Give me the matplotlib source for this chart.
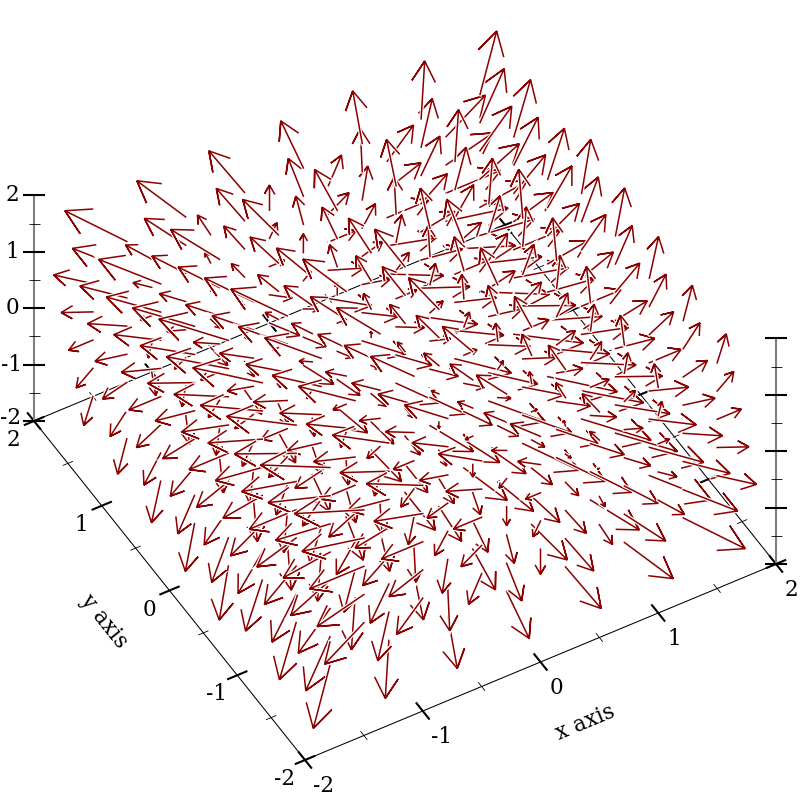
import numpy as np
import matplotlib
matplotlib.use('Agg')
import matplotlib.pyplot as plt

plt.rcParams['font.family'] = ['DejaVu Serif']

# sample positions along each axis, an arrow starts at its sample
x_samples = [-2.0, -1.5, -1.0, -0.5, 0.0, 0.5, 1.0, 1.5, 2.0]
y_samples = [-2.0, -1.5, -1.0, -0.5, 0.0, 0.5, 1.0, 1.5, 2.0]
z_samples = [-2.0, -1.5, -1.0, -0.5, 0.0, 0.5, 1.0, 1.5, 2.0]

# arrow components: dx goes with the x sample, dy with the z sample, dz with the y sample
arrow_dx = [-2.0, -1.5, -1.0, -0.5, 0.0, 0.5, 1.0, 1.5, 2.0]
arrow_dy = [-2.0, -1.5, -1.0, -0.5, 0.0, 0.5, 1.0, 1.5, 2.0]
arrow_dz = [-2.0, -1.5, -1.0, -0.5, 0.0, 0.5, 1.0, 1.5, 2.0]

major_ticks = [-2, -1, 0, 1, 2]
minor_ticks = [-1.5, -0.5, 0.5, 1.5]
x_tick_labels = ['-2', '-1', '0', '1', '2']
y_tick_labels = ['-2', '-1', '0', '1', '2']
z_tick_labels = ['-2', '-1', '0', '1', '2']

# screen placement of the box
ORIGIN = np.array([405.0, 379.7])
UX = np.array([117.75, -49.0])
UY = np.array([-67.75, -84.75])
UZ = np.array([0.0, -56.4])
VIEW = np.array([-0.25, -0.433, 0.866])
ARROW_SCALE = 4.0 / 9.0 / 2.0
BOX = 2.0
RED = '#8b0000'
LABEL_SIZE = 15.5


def project(x, y, z):
    return ORIGIN + x * UX + y * UY + z * UZ


def line3d(ax, p, q, **kw):
    a = project(*p)
    b = project(*q)
    ax.plot([a[0], b[0]], [a[1], b[1]], solid_capstyle='butt', **kw)


def draw_ticks(ax, start, end, direction, zorder):
    # start and end are 3d corners, the ticks are laid along a screen direction
    for t in major_ticks + minor_ticks:
        f = (t + 2) / 4
        c = project(*(np.array(start) + f * (np.array(end) - np.array(start))))
        big = t in major_ticks
        half = 11.0 if big else 5.5
        ax.plot([c[0] - half * direction[0], c[0] + half * direction[0]],
                [c[1] - half * direction[1], c[1] + half * direction[1]],
                color='black', lw=1.5 if big else 0.6, zorder=zorder,
                solid_capstyle='butt')


fig = plt.figure(figsize=(8, 8), dpi=100)
ax = fig.add_axes([0, 0, 1, 1])
ax.set_xlim(0, 800)
ax.set_ylim(800, 0)
ax.axis('off')

xdir = UX / np.linalg.norm(UX)
ydir = UY / np.linalg.norm(UY)
zdir = np.array([1.0, 0.0])

# back of the box, under the arrows
line3d(ax, (-2, 2, -2), (2, 2, -2), color='black', lw=0.75, zorder=1)
line3d(ax, (2, 2, -2), (2, -2, -2), color='black', lw=0.75, zorder=1)
draw_ticks(ax, (-2, 2, -2), (2, 2, -2), ydir, 1)
draw_ticks(ax, (2, 2, -2), (2, -2, -2), xdir, 1)

# arrows, back to front; a tip that leaves the box drops the arrow
arrows = []
for i, x in enumerate(x_samples):
    for j, y in enumerate(y_samples):
        for k, z in enumerate(z_samples):
            v = np.array([arrow_dx[i], arrow_dy[k], arrow_dz[j]])
            if np.all(v == 0):
                continue
            start = np.array([x, y, z])
            end = start + v * ARROW_SCALE
            if np.any(np.abs(end) > BOX):
                continue
            arrows.append((np.dot((start + end) / 2, VIEW), start, end))
arrows.sort(key=lambda a: a[0])

z = 10
for depth, start, end in arrows:
    tail = project(*start)
    tip = project(*end)
    back = tail - tip
    barbs = []
    for angle in (np.pi / 6, -np.pi / 6):
        rot = np.array([[np.cos(angle), -np.sin(angle)], [np.sin(angle), np.cos(angle)]])
        barbs.append(tip + 0.4 * rot.dot(back))
    path = np.array([tail, tip, barbs[0], tip, barbs[1]])
    ax.plot(path[:, 0], path[:, 1], color='white', lw=2.8, zorder=z, solid_joinstyle='miter')
    ax.plot(path[:, 0], path[:, 1], color=RED, lw=1.1, zorder=z + 0.5, solid_joinstyle='miter')
    z += 1

# front of the box and the two z axes
top = z + 10
line3d(ax, (-2, -2, -2), (2, -2, -2), color='black', lw=0.75, zorder=top)
line3d(ax, (-2, -2, -2), (-2, 2, -2), color='black', lw=0.75, zorder=top)
draw_ticks(ax, (-2, -2, -2), (2, -2, -2), ydir, top)
draw_ticks(ax, (-2, -2, -2), (-2, 2, -2), xdir, top)
line3d(ax, (-2, 2, -2), (-2, 2, 2), color='#808080', lw=1.5, zorder=top)
line3d(ax, (2, -2, -2), (2, -2, 2), color='#808080', lw=1.5, zorder=top)
draw_ticks(ax, (-2, 2, -2), (-2, 2, 2), zdir, top)
draw_ticks(ax, (2, -2, -2), (2, -2, 2), zdir, top)

# tick labels
for t, label in zip(major_ticks, x_tick_labels):
    shift = 19 if t < 0 else 15.5
    p = project(t, -2, -2) + np.array([shift, 26])
    ax.text(p[0], p[1], label, fontsize=LABEL_SIZE, ha='center', va='center', zorder=top)
for t, label in zip(major_ticks, y_tick_labels):
    p = project(-2, t, -2) + np.array([-20.5, 19])
    ax.text(p[0], p[1], label, fontsize=LABEL_SIZE, ha='center', va='center', zorder=top)
for t, label in zip(major_ticks, z_tick_labels):
    # the minus is wide in this font, keep it inside the picture
    shift = -12.5 if t < 0 else -15
    dy = -3 if t == -2 else 0
    p = project(-2, 2, t) + np.array([shift, dy])
    ax.text(p[0], p[1], label, fontsize=LABEL_SIZE, ha='right', va='center', zorder=top)

pos = project(0, -2, -2) + np.array([45, 61])
ax.text(pos[0], pos[1], 'x axis', fontsize=LABEL_SIZE, rotation=22.6, rotation_mode='anchor',
        ha='center', va='center', zorder=top)
pos = project(-2, 0, -2) + np.array([-66, 31])
ax.text(pos[0], pos[1], 'y axis', fontsize=LABEL_SIZE, rotation=-51.4, rotation_mode='anchor',
        ha='center', va='center', zorder=top)

fig.savefig('out.png', dpi=100)
